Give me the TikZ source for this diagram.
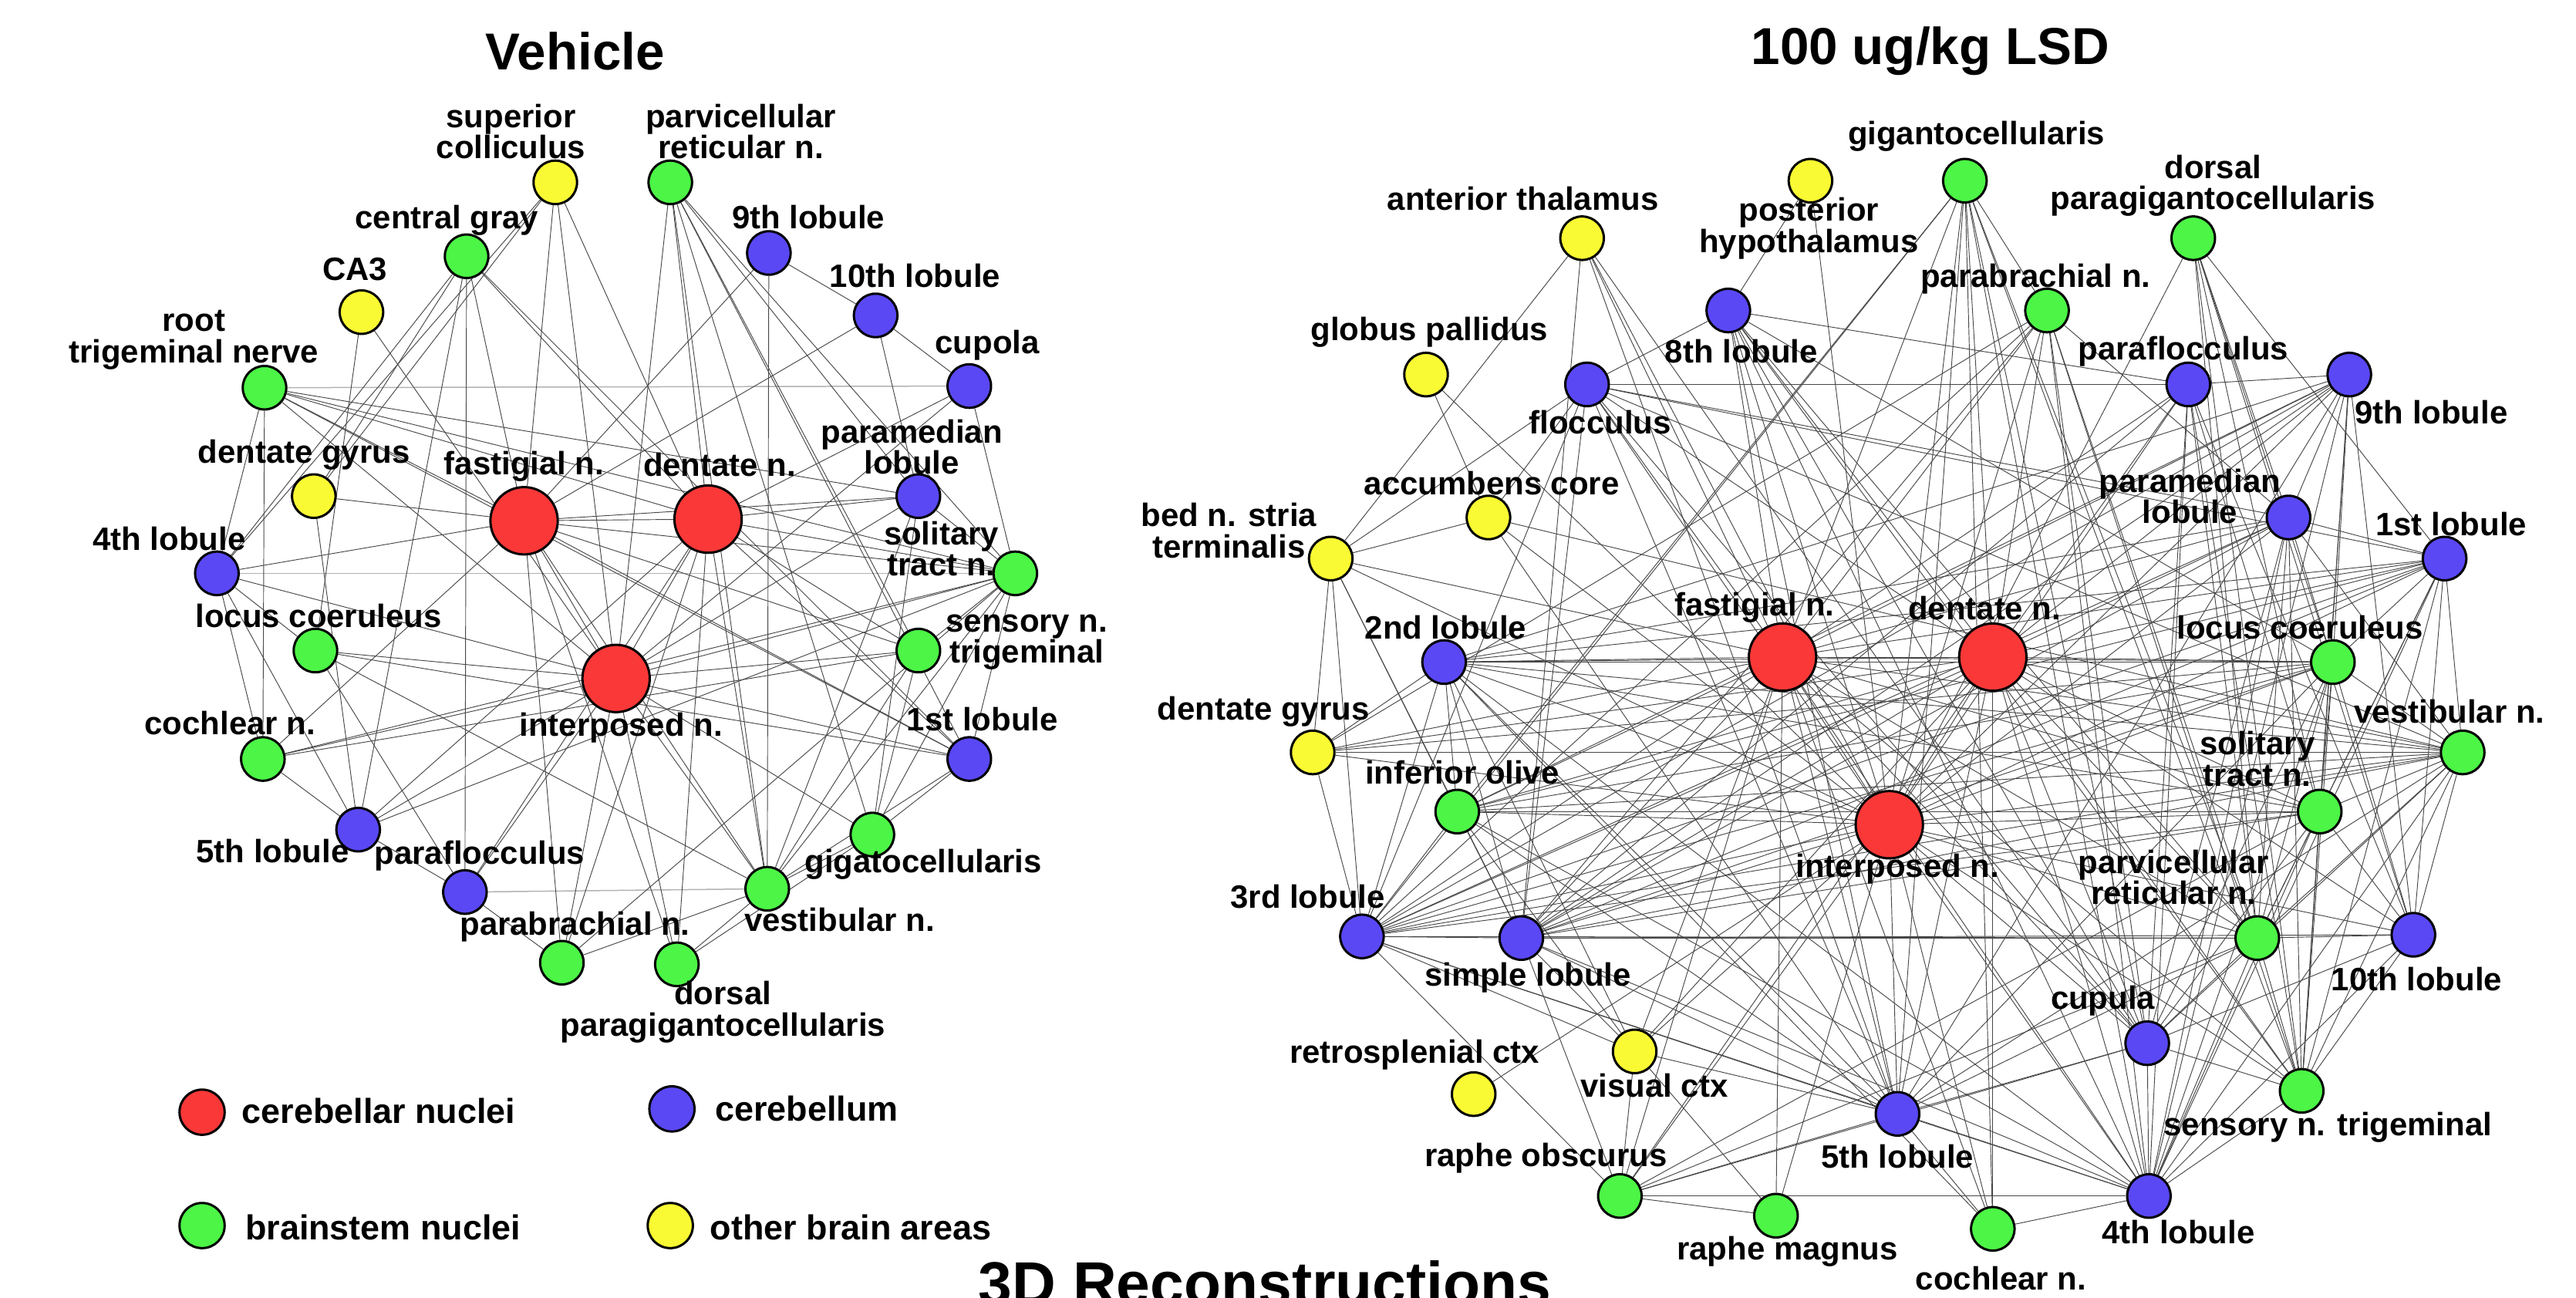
\documentclass[tikz,border=0pt]{standalone}
\usepackage{fontspec}
\setmainfont{Liberation Sans}
\usepackage{tikz}
\usetikzlibrary{backgrounds}
\definecolor{nucred}{RGB}{250,56,56}
\definecolor{cblblue}{RGB}{90,72,245}
\definecolor{bstgreen}{RGB}{76,245,70}
\definecolor{othyellow}{RGB}{250,250,52}
\tikzset{
  region/.style={circle, draw, line width=0.8pt, minimum size=0.53cm, inner sep=0pt},
  nuc/.style={region, fill=nucred, minimum size=0.82cm},
  cbl/.style={region, fill=cblblue},
  bst/.style={region, fill=bstgreen},
  oth/.style={region, fill=othyellow},
  lab/.style={font=\fontsize{11.2}{10.8}\selectfont\bfseries, align=center, inner sep=0pt},
  leglab/.style={font=\fontsize{12}{12}\selectfont\bfseries, anchor=west, inner sep=0pt},
  ttl/.style={font=\fontsize{18}{18}\selectfont\bfseries, inner sep=0pt},
  link/.style={draw=black!72, line width=0.25pt},
  pale/.style={draw=black!30, line width=0.4pt},
}
\begin{document}
\begin{tikzpicture}[x=0.02cm, y=-0.02cm]
\useasboundingbox (0,0) rectangle (1568,790);

% titles
\node[ttl] (vehttl) at (350,31) {Vehicle};
\node[ttl] (lsdttl) at (1175,31) {100 ug/kg LSD};

% vehicle network
\node[oth] (lsc) at (338,111) {};
\node[bst] (lpcr) at (408,111) {};
\node[bst] (lcg) at (284,156) {};
\node[cbl] (l9) at (468,154) {};
\node[oth] (lca3) at (220,190) {};
\node[cbl] (l10) at (533,192) {};
\node[bst] (lrtn) at (161,236) {};
\node[cbl] (lcup) at (590,235) {};
\node[cbl] (lpml) at (559,302) {};
\node[oth] (ldg) at (191,302) {};
\node[nuc] (lfn) at (319,317) {};
\node[nuc] (ldn) at (431,316) {};
\node[cbl] (l4) at (132,349) {};
\node[bst] (lstn) at (618,349) {};
\node[bst] (llc) at (192,396) {};
\node[bst] (lsnt) at (559,396) {};
\node[nuc] (lin) at (375,413) {};
\node[bst] (lcn) at (160,462) {};
\node[cbl] (l1) at (590,462) {};
\node[cbl] (l5) at (218,505) {};
\node[bst] (lgc) at (531,508) {};
\node[cbl] (lpfl) at (283,543) {};
\node[bst] (lvn) at (467,541) {};
\node[bst] (lpbn) at (342,586) {};
\node[bst] (ldpg) at (412,587) {};

\node[lab] (lsc-t) at (311,80) {superior\\colliculus};
\node[lab] (lpcr-t) at (451,80) {parvicellular\\reticular n.};
\node[lab] (lcg-t) at (272,134) {central gray};
\node[lab] (l9-t) at (492,132) {9th lobule};
\node[lab] (lca3-t) at (216,164) {CA3};
\node[lab] (l10-t) at (557,168) {10th lobule};
\node[lab] (lrtn-t) at (118,207) {root\\trigeminal nerve};
\node[lab] (lcup-t) at (601,210) {cupola};
\node[lab] (lpml-t) at (555,272) {paramedian\\lobule};
\node[lab] (ldg-t) at (185,277) {dentate gyrus};
\node[lab] (lfn-t) at (319,284) {fastigial n.};
\node[lab] (ldn-t) at (438,283) {dentate n.};
\node[lab] (l4-t) at (103,328) {4th lobule};
\node[lab] (lstn-t) at (573,334) {solitary\\tract n.};
\node[lab] (llc-t) at (194,375) {locus coeruleus};
\node[lab] (lsnt-t) at (625,391) {sensory n.\\trigeminal};
\node[lab] (lin-t) at (378,443) {interposed n.};
\node[lab] (lcn-t) at (140,440) {cochlear n.};
\node[lab] (l1-t) at (598,438) {1st lobule};
\node[lab] (l5-t) at (166,518) {5th lobule};
\node[lab] (lgc-t) at (562,526) {gigatocellularis};
\node[lab] (lpfl-t) at (292,521) {paraflocculus};
\node[lab] (lvn-t) at (511,560) {vestibular n.};
\node[lab] (lpbn-t) at (350,564) {parabrachial n.};
\node[lab] (ldpg-t) at (440,616) {dorsal\\paragigantocellularis};

% LSD network
\node[oth] (rph) at (1102,110) {};
\node[oth] (rat) at (963,145) {};
\node[cbl] (r8) at (1052,189) {};
\node[oth] (rgp) at (868,228) {};
\node[cbl] (rfl) at (966,234) {};
\node[oth] (rac) at (906,315) {};
\node[oth] (rbn) at (810,340) {};
\node[bst] (rgc) at (1196,110) {};
\node[bst] (rdpg) at (1335,145) {};
\node[bst] (rpbn) at (1246,189) {};
\node[cbl] (rpfl) at (1332,234) {};
\node[cbl] (r9) at (1430,228) {};
\node[cbl] (rpml) at (1393,315) {};
\node[cbl] (r1) at (1488,340) {};
\node[nuc] (rfn) at (1085,400) {};
\node[cbl] (r2) at (879,403) {};
\node[oth] (rdg) at (799,458) {};
\node[bst] (rio) at (887,494) {};
\node[cbl] (r3) at (829,570) {};
\node[cbl] (rsl) at (926,571) {};
\node[oth] (rvc) at (995,640) {};
\node[oth] (rrs) at (897,666) {};
\node[bst] (rro) at (986,728) {};
\node[bst] (rrm) at (1081,740) {};
\node[nuc] (rdn) at (1213,400) {};
\node[nuc] (rin) at (1150,502) {};
\node[bst] (rlc) at (1420,403) {};
\node[bst] (rvn) at (1499,458) {};
\node[bst] (rstn) at (1412,494) {};
\node[bst] (rpcr) at (1374,571) {};
\node[cbl] (r10) at (1469,569) {};
\node[cbl] (rcup) at (1307,635) {};
\node[bst] (rsnt) at (1401,664) {};
\node[cbl] (r5) at (1155,678) {};
\node[cbl] (r4) at (1308,728) {};
\node[bst] (rcn) at (1213,748) {};

\node[lab] (rph-t) at (1101,139) {posterior\\hypothalamus};
\node[lab] (rat-t) at (927,121) {anterior thalamus};
\node[lab] (r8-t) at (1060,214) {8th lobule};
\node[lab] (rgp-t) at (870,202) {globus pallidus};
\node[lab] (rfl-t) at (974,257) {flocculus};
\node[lab] (rac-t) at (908,294) {accumbens core};
\node[lab] (rbn-t) at (748,323) {bed n. stria\\terminalis};
\node[lab] (rgc-t) at (1203,83) {gigantocellularis};
\node[lab] (rdpg-t) at (1347,113) {dorsal\\paragigantocellularis};
\node[lab] (rpbn-t) at (1239,170) {parabrachial n.};
\node[lab] (rpfl-t) at (1329,214) {paraflocculus};
\node[lab] (r9-t) at (1480,251) {9th lobule};
\node[lab] (rpml-t) at (1333,302) {paramedian\\lobule};
\node[lab] (r1-t) at (1492,319) {1st lobule};
\node[lab] (rfn-t) at (1068,370) {fastigial n.};
\node[lab] (r2-t) at (880,382) {2nd lobule};
\node[lab] (rdg-t) at (769,433) {dentate gyrus};
\node[lab] (rio-t) at (890,470) {inferior olive};
\node[lab] (r3-t) at (796,546) {3rd lobule};
\node[lab] (rsl-t) at (930,595) {simple lobule};
\node[lab] (rrs-t) at (861,642) {retrosplenial ctx};
\node[lab] (rvc-t) at (1007,661) {visual ctx};
\node[lab] (rro-t) at (941,705) {raphe obscurus};
\node[lab] (rrm-t) at (1088,762) {raphe magnus};
\node[lab] (rdn-t) at (1208,370) {dentate n.};
\node[lab] (rlc-t) at (1400,382) {locus coeruleus};
\node[lab] (rvn-t) at (1491,433) {vestibular n.};
\node[lab] (rstn-t) at (1374,462) {solitary\\tract n.};
\node[lab] (rin-t) at (1155,529) {interposed n.};
\node[lab] (rpcr-t) at (1323,534) {parvicellular\\reticular n.};
\node[lab] (r10-t) at (1471,596) {10th lobule};
\node[lab] (rcup-t) at (1280,609) {cupula};
\node[lab] (rsnt-t) at (1417,686) {sensory n. trigeminal};
\node[lab] (r5-t) at (1155,704) {5th lobule};
\node[lab] (r4-t) at (1326,750) {4th lobule};
\node[lab] (rcn-t) at (1218,778) {cochlear n.};

% legend
\node[nuc, minimum size=0.55cm] (legnuc) at (123,677) {};
\node[leglab] (legnuc-t) at (147,676) {cerebellar nuclei};
\node[cbl, minimum size=0.55cm] (legcbl) at (409,675) {};
\node[leglab] (legcbl-t) at (435,675) {cerebellum};
\node[bst, minimum size=0.55cm] (legbst) at (123,746) {};
\node[leglab] (legbst-t) at (149,747) {brainstem nuclei};
\node[oth, minimum size=0.55cm] (legoth) at (408,746) {};
\node[leglab] (legoth-t) at (432,747) {other brain areas};

\begin{scope}
  \clip (0,0) rectangle (1568,790);
  \node[font=\fontsize{21}{21}\selectfont\bfseries, anchor=base, inner sep=0pt] (recttl) at (770,794) {3D Reconstructions};
\end{scope}

\begin{scope}[on background layer]
% vehicle links
\draw[pale] (lrtn) -- (lcup);
\draw[pale] (l4) -- (lstn);
\draw[pale] (lpfl) -- (lvn);
\foreach \t in {lfn,ldn,ldg,l4,lin} \draw[link] (lsc) -- (\t);
\foreach \t in {ldn,lin,lvn,lpml,lstn,l1,lsnt,lgc} \draw[link] (lpcr) -- (\t);
\foreach \t in {lfn,ldg,l4,ldn,l1,lpfl,l5} \draw[link] (lcg) -- (\t);
\foreach \t in {lin,llc} \draw[link] (lca3) -- (\t);
\foreach \t in {lfn,ldn,lpml,lstn,lin,l4,lcn,l1} \draw[link] (lrtn) -- (\t);
\foreach \t in {lfn,l5} \draw[link] (ldg) -- (\t);
\foreach \t in {lfn,lin,lcn,l5,llc} \draw[link] (l4) -- (\t);
\foreach \t in {ldn,lin,lvn,lpbn,ldpg,lsnt,l1,l9,lpml,lcn,lstn} \draw[link] (lfn) -- (\t);
\foreach \t in {lin,lvn,ldpg,lpbn,lpml,lcup,lstn,l1,lpfl,l5,lsnt} \draw[link] (ldn) -- (\t);
\foreach \t in {l10,lvn} \draw[link] (l9) -- (\t);
\foreach \t in {lcup,lfn,lpml} \draw[link] (l10) -- (\t);
\foreach \t in {lstn,lin} \draw[link] (lcup) -- (\t);
\foreach \t in {lstn,lin,lvn,lgc} \draw[link] (lpml) -- (\t);
\foreach \t in {lin,lsnt,lvn,lgc,lcn,l5,lpbn,l1} \draw[link] (lstn) -- (\t);
\foreach \t in {lin,lpfl,lvn,l1} \draw[link] (llc) -- (\t);
\foreach \t in {lin,lgc,lvn,lcn} \draw[link] (lsnt) -- (\t);
\foreach \t in {lcn,l5,l1,lvn,lpbn,ldpg,lgc,lpfl} \draw[link] (lin) -- (\t);
\foreach \t in {l5} \draw[link] (lcn) -- (\t);
\foreach \t in {lgc,lvn} \draw[link] (l1) -- (\t);
\foreach \t in {lvn,ldpg} \draw[link] (lgc) -- (\t);
\foreach \t in {lpfl} \draw[link] (l5) -- (\t);
\foreach \t in {lpbn} \draw[link] (lpfl) -- (\t);
\foreach \t in {lpbn,ldpg} \draw[link] (lvn) -- (\t);

% LSD links
\foreach \t in {rin,r8} \draw[link] (rph) -- (\t);
\foreach \t in {rbn,rsl,rin,rfn,r5,rcup} \draw[link] (rat) -- (\t);
\foreach \t in {rac,rin} \draw[link] (rgp) -- (\t);
\foreach \t in {r8,rac,rpfl,rpml,r1,rfn,rin,rdn,rsl,r5,rcup,rvn,rbn,r3} \draw[link] (rfl) -- (\t);
\foreach \t in {rfn,rin,rdn,rpfl,r5,rcup,r4,rpcr,rsnt,rlc} \draw[link] (r8) -- (\t);
\foreach \t in {rac,rfn,rdg,rio,r3,rsl,rin} \draw[link] (rbn) -- (\t);
\foreach \t in {rin,r5,rvn} \draw[link] (rac) -- (\t);
\foreach \t in {rfn,rdn,rin,r5,rcup,r4,rpcr,rpbn,rsnt,rcn,r3,rio} \draw[link] (rgc) -- (\t);
\foreach \t in {r1,rpml,rpcr,rsnt,r10,rlc,rstn,rin} \draw[link] (rdpg) -- (\t);
\foreach \t in {rfn,rdn,rin,r3,rsl,rpml,rpcr,rsnt,r4,rcup,rdg} \draw[link] (rpbn) -- (\t);
\foreach \t in {r9,rfn,rdn,rin,rsl,rcup,r4,rsnt,rpcr,rstn,r10} \draw[link] (rpfl) -- (\t);
\foreach \t in {rpml,rlc,rstn,r10,rsnt,rin,rdn,rfn,r3,r2,rio,r5,r4,rsl} \draw[link] (r9) -- (\t);
\foreach \t in {r1,rdn,rin,rfn,r2,r3,rsl,rlc,rvn,rpcr,r4,rcup,rsnt} \draw[link] (rpml) -- (\t);
\foreach \t in {rvn,rlc,rstn,rdn,rin,rfn,r2,rio,r3,rsl,rpcr,rsnt,r4,r10} \draw[link] (r1) -- (\t);
\foreach \t in {rdn,rin,r2,r3,rsl,rio,rdg,rlc,rvn,rstn,rpcr,r5,rcup,r4,rcn,rrm,rro,rvc,rsnt} \draw[link] (rfn) -- (\t);
\foreach \t in {rin,rlc,r2,rio,r3,rsl,rvn,rstn,rpcr,r10,rcup,r4,rcn,r5,rsnt,rro,rvc,rdg} \draw[link] (rdn) -- (\t);
\foreach \t in {r2,rio,r3,rsl,rlc,rvn,rstn,rpcr,r10,rcup,r4,r5,rcn,rrm,rro,rvc,rsnt,rdg,rrs} \draw[link] (rin) -- (\t);
\foreach \t in {rdg,rio,r3,rsl,rvc,r5,rlc,rvn,rstn,r4,rcn} \draw[link] (r2) -- (\t);
\foreach \t in {rdg,rio,rsl,rvc,r5,rlc,rvn,rstn,rpcr,r4,rro} \draw[link] (r3) -- (\t);
\foreach \t in {rio,rvc,r5,rlc,rvn,rstn,rpcr,r4,rro,r10} \draw[link] (rsl) -- (\t);
\foreach \t in {rvn,rlc,rstn,r5,r4,rvc} \draw[link] (rio) -- (\t);
\foreach \t in {rlc,rvn} \draw[link] (rdg) -- (\t);
\foreach \t in {rro,r5,rrm} \draw[link] (rvc) -- (\t);
\foreach \t in {rrm,r5,r4,rcup,rpcr,rstn} \draw[link] (rro) -- (\t);
\foreach \t in {rvn,rstn,rpcr,r10,rsnt,r4,rcup,r5} \draw[link] (rlc) -- (\t);
\foreach \t in {rstn,rpcr,r10,rsnt,r4,rcup,r5} \draw[link] (rvn) -- (\t);
\foreach \t in {rpcr,r10,rsnt,r4,rcup} \draw[link] (rstn) -- (\t);
\foreach \t in {rsnt,r4,rcup,r10,r5} \draw[link] (rpcr) -- (\t);
\foreach \t in {rsnt,r4,rcup} \draw[link] (r10) -- (\t);
\foreach \t in {r4,rsnt} \draw[link] (rcup) -- (\t);
\foreach \t in {r4,rcn,rcup} \draw[link] (r5) -- (\t);
\foreach \t in {rcn,rsnt} \draw[link] (r4) -- (\t);
\end{scope}
\end{tikzpicture}
\end{document}
